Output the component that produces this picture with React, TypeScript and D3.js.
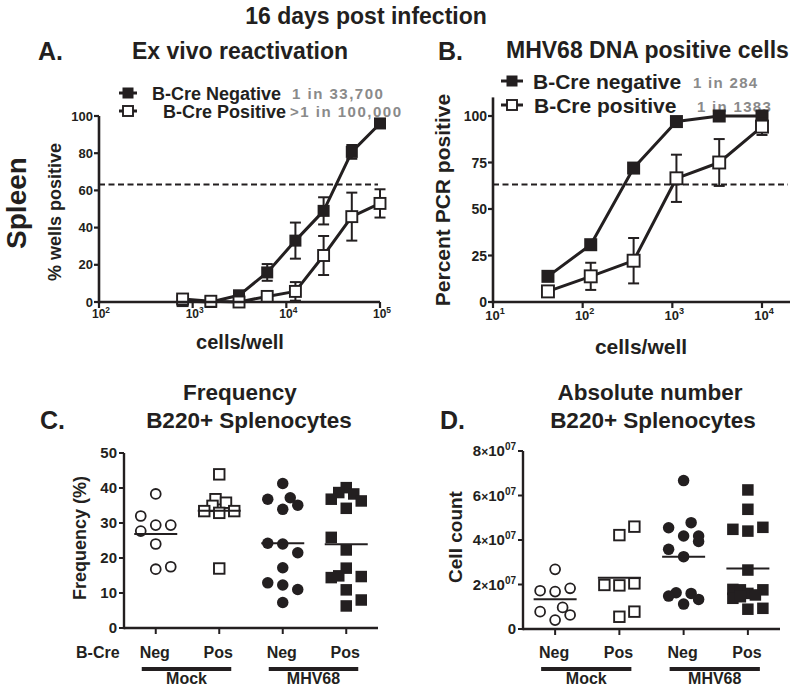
import React from 'react';
import * as d3 from 'd3';

const FONT = '"Liberation Sans", Arial, Helvetica, sans-serif';
const INK = '#231f20';
const GREY = '#8a8a8a';

// ---------- Panel A: ex vivo reactivation ----------
const cellsA = [781, 1563, 3125, 6250, 12500, 25000, 50000, 100000];
const negA = [0.5, 0, 3.6, 15.9, 33, 49, 80.7, 96];
const negASem = [0, 0, 1, 4.5, 9.7, 7.3, 3.7, 1];
const posA = [1.6, 0.4, 0, 3, 5.7, 25, 45.9, 53];
const posASem = [0, 0, 0, 1, 5, 10.5, 12.9, 7.6];
const xTicksA = [100, 1000, 10000, 100000];
const yTicksA = [0, 20, 40, 60, 80, 100];

// ---------- Panel B: MHV68 DNA positive cells ----------
const cellsB = [41, 123, 370, 1111, 3333, 10000];
const negB = [13.8, 30.8, 72, 97, 100, 100];
const negBSem = [1.5, 1.5, 2, 1.5, 0, 0];
const posB = [5.7, 13.8, 22.2, 66.5, 75, 94.3];
const posBSem = [0, 7.3, 12.2, 12.7, 12.6, 4.5];
const xTicksB = [10, 100, 1000, 10000];
const yTicksB = [0, 25, 50, 75, 100];

const cutoff = 63.2;

// ---------- Panel C: frequency (%) ----------
const groups = ['MockNeg', 'MockPos', 'MHVNeg', 'MHVPos'];
const groupLabels = ['Neg', 'Pos', 'Neg', 'Pos'];
const freqMockNeg = [38.3, 32, 29.4, 29.4, 27.7, 24, 16.8, 17.5];
const slotMockNegC = [0, -1, 0, 1, -1, 0, 0, 1];
const freqMockPos = [43.9, 36.8, 35.8, 34.9, 33.4, 32.9, 33.4, 17];
const slotMockPosC = [0, -0.25, 0.45, -0.45, -1, 0, 1, 0];
const freqMhvNeg = [41.3, 36.8, 37.2, 35.1, 33.9, 24.2, 24, 21.5, 17.2, 12.9, 12.3, 11, 7.3];
const slotMhvNegC = [0, -1, 0.5, 1, 0, -1, 0, 1, 0, -1, 0, 1, 0];
const freqMhvPos = [40.1, 38.7, 38.3, 36.8, 36.3, 34.2, 25.9, 22.3, 17.1, 14.9, 14.4, 14.7, 10.9, 8, 6.3];
const slotMhvPosC = [0, -0.5, 0.5, -1, 1, 0, -1, 0, 0, -0.5, -1, 1, 0, 1, 0];
const yTicksC = [0, 10, 20, 30, 40, 50];

// ---------- Panel D: absolute number ----------
const countMockNeg = [2.68e7, 1.72e7, 1.68e7, 1.83e7, 0.78e7, 0.97e7, 0.63e7, 0.4e7];
const slotMockNegD = [0, -1, 0, 1, -1, 0.5, 1, 0];
const countMockPos = [4.6e7, 4.22e7, 1.98e7, 1.96e7, 2.05e7, 0.78e7, 0.55e7];
const slotMockPosD = [1, 0, -1, 0, 1, 1, 0];
const countMhvNeg = [6.67e7, 4.78e7, 4.55e7, 4.18e7, 4.18e7, 3.93e7, 3.58e7, 3.25e7, 1.63e7, 1.48e7, 1.6e7, 1.33e7, 1.12e7];
const slotMhvNegD = [0, 0.5, -1, 0, 1, 1, -1, 0, -0.5, -1, 0.5, 1, 0];
const countMhvPos = [6.25e7, 5.38e7, 4.48e7, 4.4e7, 4.57e7, 2.65e7, 1.78e7, 1.76e7, 1.76e7, 1.38e7, 1.6e7, 1.53e7, 1.45e7, 0.89e7, 0.93e7];
const slotMhvPosD = [0, 0, -1, 0, 1, 0, -1, -0.5, 1, -1, 0, 0.5, -0.5, 0, 1];
const yTicksD = [0, 2e7, 4e7, 6e7, 8e7];

const markerKinds = ['openCircle', 'openSquare', 'filledCircle', 'filledSquare'];

type Sym = string;

function Marker({ kind, x, y, s }: { kind: Sym; x: number; y: number; s: number }) {
  if (kind === 'openCircle') return <circle cx={x} cy={y} r={s / 2 - 0.3} fill="#fff" stroke={INK} strokeWidth={1.8} />;
  if (kind === 'filledCircle') return <circle cx={x} cy={y} r={s / 2 + 0.5} fill={INK} />;
  if (kind === 'openSquare') return <rect x={x - s / 2} y={y - s / 2} width={s} height={s} fill="#fff" stroke={INK} strokeWidth={1.9} />;
  return <rect x={x - s / 2 - 0.5} y={y - s / 2 - 0.5} width={s + 1} height={s + 1} fill={INK} />;
}

function Pow10({ x, y, base, exp, size }: { x: number; y: number; base: string; exp: number; size: number }) {
  return (
    <text x={x} y={y} textAnchor="middle" fontSize={size} fontWeight="bold" fill={INK} fontFamily={FONT}>
      <tspan>{base}</tspan>
      <tspan fontSize={size * 0.7} dy={-size * 0.45}>{exp}</tspan>
    </text>
  );
}

type LdaProps = {
  xScale: d3.ScaleLogarithmic<number, number>;
  yScale: d3.ScaleLinear<number, number>;
  xEnd: number;
  yTopVal: number;
  xTicks: number[];
  yTicks: number[];
  cells: number[];
  neg: number[];
  negSem: number[];
  pos: number[];
  posSem: number[];
  tickSize: number;
  xTickSize: number;
  xLabelY: number;
  yLabelX: number;
  mk: number;
};

function LdaPanel(p: LdaProps) {
  const { xScale: x, yScale: y } = p;
  const line = d3.line<number>().x((_, i) => x(p.cells[i])).y((d) => y(d));
  const x0 = x.range()[0];
  const y0 = y(0);
  const series = [
    { vals: p.neg, sem: p.negSem, kind: 'filledSquare' },
    { vals: p.pos, sem: p.posSem, kind: 'openSquare' },
  ];
  return (
    <g>
      <line x1={x0} x2={p.xEnd - 2} y1={y(cutoff)} y2={y(cutoff)} stroke={INK} strokeWidth={2} strokeDasharray="6,3.5" />
      {series.map((s, si) => (
        <g key={si}>
          {s.vals.map((v, i) =>
            s.sem[i] > 0.8 ? (
              <g key={i} stroke={INK} strokeWidth={2}>
                <line x1={x(p.cells[i])} x2={x(p.cells[i])} y1={y(v + s.sem[i])} y2={y(Math.max(0, v - s.sem[i]))} />
                <line x1={x(p.cells[i]) - 5.5} x2={x(p.cells[i]) + 5.5} y1={y(v + s.sem[i])} y2={y(v + s.sem[i])} />
                <line x1={x(p.cells[i]) - 5.5} x2={x(p.cells[i]) + 5.5} y1={y(Math.max(0, v - s.sem[i]))} y2={y(Math.max(0, v - s.sem[i]))} />
              </g>
            ) : null
          )}
          <path d={line(s.vals) || ''} fill="none" stroke={INK} strokeWidth={3} strokeLinejoin="round" />
          {s.vals.map((v, i) => (
            <Marker key={i} kind={s.kind} x={x(p.cells[i])} y={y(v)} s={p.mk} />
          ))}
        </g>
      ))}
      <line x1={x0} x2={p.xEnd} y1={y0} y2={y0} stroke={INK} strokeWidth={2.6} />
      <line x1={x0} x2={x0} y1={y0 + 1.3} y2={y(p.yTopVal)} stroke={INK} strokeWidth={2.6} />
      {p.yTicks.map((t) => (
        <g key={t}>
          <line x1={x0 - 5} x2={x0} y1={y(t)} y2={y(t)} stroke={INK} strokeWidth={2.2} />
          <text x={p.yLabelX} y={y(t) + p.tickSize * 0.36} textAnchor="end" fontSize={p.tickSize} fontWeight="bold" fill={INK} fontFamily={FONT}>
            {t}
          </text>
        </g>
      ))}
      {p.xTicks.map((t) => (
        <g key={t}>
          <line x1={x(t)} x2={x(t)} y1={y0} y2={y0 + 6} stroke={INK} strokeWidth={2.2} />
          <Pow10 x={x(t) + 2} y={p.xLabelY} base="10" exp={Math.round(Math.log10(t))} size={p.xTickSize} />
        </g>
      ))}
    </g>
  );
}

type ScatterProps = {
  x0: number;
  x1: number;
  yScale: d3.ScaleLinear<number, number>;
  values: number[][];
  slots: number[][];
  yTicks: number[];
  tickLabel: (t: number, x: number, y: number) => React.ReactNode;
};

function ScatterPanel(p: ScatterProps) {
  const x = d3.scalePoint<string>().domain(groups).range([p.x0, p.x1]).padding(0.5);
  const y = p.yScale;
  const y0 = y.range()[0];
  const slotW = 15;
  return (
    <g>
      {groups.map((g, gi) => (
        <g key={g}>
          {p.values[gi].map((v, i) => (
            <Marker key={i} kind={markerKinds[gi]} x={(x(g) as number) + p.slots[gi][i] * slotW} y={y(v)} s={10.5} />
          ))}
          <line
            x1={(x(g) as number) - 21.5}
            x2={(x(g) as number) + 21.5}
            y1={y(d3.mean(p.values[gi]) as number)}
            y2={y(d3.mean(p.values[gi]) as number)}
            stroke={INK}
            strokeWidth={2}
          />
        </g>
      ))}
      <line x1={p.x0} x2={p.x1} y1={y0} y2={y0} stroke={INK} strokeWidth={2.4} />
      <line x1={p.x0} x2={p.x0} y1={y0 + 1.2} y2={y.range()[1]} stroke={INK} strokeWidth={2.4} />
      {p.yTicks.map((t) => (
        <g key={t}>
          <line x1={p.x0 - 5} x2={p.x0} y1={y(t)} y2={y(t)} stroke={INK} strokeWidth={2} />
          {p.tickLabel(t, p.x0 - 7, y(t))}
        </g>
      ))}
      {groups.map((g, gi) => (
        <g key={g}>
          <line x1={x(g) as number} x2={x(g) as number} y1={y0} y2={y0 + 6} stroke={INK} strokeWidth={2} />
          <text x={(x(g) as number) - 1} y={658} textAnchor="middle" fontSize={16} fontWeight="bold" fill={INK} fontFamily={FONT}>
            {groupLabels[gi]}
          </text>
        </g>
      ))}
      {[0, 2].map((gi) => {
        const a = (x(groups[gi]) as number) - 14;
        const b = (x(groups[gi + 1]) as number) + 12;
        return (
          <g key={gi}>
            <line x1={a} x2={b} y1={669} y2={669} stroke={INK} strokeWidth={4} />
            <text x={(a + b) / 2} y={684} textAnchor="middle" fontSize={16} fontWeight="bold" fill={INK} fontFamily={FONT}>
              {gi === 0 ? 'Mock' : 'MHV68'}
            </text>
          </g>
        );
      })}
    </g>
  );
}

function T(props: any) {
  return <text fontWeight="bold" fill={INK} fontFamily={FONT} {...props} />;
}

function LegendRow({ x, y, kind, w }: { x: number; y: number; kind: Sym; w: number }) {
  return (
    <g>
      <line x1={x - w} x2={x + w} y1={y} y2={y} stroke={INK} strokeWidth={3} />
      <Marker kind={kind} x={x} y={y} s={10} />
    </g>
  );
}

export default function App() {
  const xA = d3.scaleLog().domain([100, 100000]).range([99, 380]);
  const yA = d3.scaleLinear().domain([0, 100]).range([302, 116]);
  const xB = d3.scaleLog().domain([10, 10000]).range([493, 762]);
  const yB = d3.scaleLinear().domain([0, 100]).range([302, 116]);
  const yC = d3.scaleLinear().domain([0, 50]).range([628, 453]);
  const yD = d3.scaleLinear().domain([0, 8e7]).range([629, 451]);

  const cLabel = (t: number, x: number, y: number) => (
    <T x={x} y={y + 5.3} textAnchor="end" fontSize={15}>
      {t}
    </T>
  );
  const dLabel = (t: number, x: number, y: number) =>
    t === 0 ? (
      <T x={x} y={y + 5.3} textAnchor="end" fontSize={15}>0</T>
    ) : (
      <T x={x} y={y + 5} textAnchor="end" fontSize={15}>
        <tspan>{t / 1e7}</tspan>
        <tspan fontSize={12}>×</tspan>
        <tspan>10</tspan>
        <tspan fontSize={10} dy={-6}>07</tspan>
      </T>
    );

  return (
    <svg width={800} height={691} style={{ position: 'absolute', left: 0, top: 0, background: '#fff' }}>
      <defs>
        <clipPath id="clipA">
          <rect x={0} y={0} width={409} height={691} />
        </clipPath>
      </defs>
      <rect x={0} y={0} width={800} height={691} fill="#fff" />
      <T x={366} y={24} textAnchor="middle" fontSize={23}>16 days post infection</T>

      {/* Panel A */}
      <T x={38} y={60} fontSize={25}>A.</T>
      <T x={132} y={59} fontSize={23}>Ex vivo reactivation</T>
      <T transform="translate(16,203) rotate(-90)" dy="0.36em" textAnchor="middle" fontSize={28}>Spleen</T>
      <T transform="translate(55,212) rotate(-90)" dy="0.36em" textAnchor="middle" fontSize={18}>% wells positive</T>
      <LegendRow x={128} y={93} kind="filledSquare" w={9} />
      <T x={152} y={99.5} fontSize={18}>B-Cre Negative</T>
      <T x={292} y={99} fontSize={15} fill={GREY} letterSpacing={1.5}>1 in 33,700</T>
      <LegendRow x={128} y={111} kind="openSquare" w={9} />
      <T x={163} y={117.5} fontSize={18}>B-Cre Positive</T>
      <g clipPath="url(#clipA)">
        <T x={290} y={117} fontSize={15} fill={GREY} letterSpacing={1.5}>&gt;1 in 100,000</T>
      </g>
      <LdaPanel
        xScale={xA}
        yScale={yA}
        xEnd={380}
        yTopVal={100}
        xTicks={xTicksA}
        yTicks={yTicksA}
        cells={cellsA}
        neg={negA}
        negSem={negASem}
        pos={posA}
        posSem={posASem}
        tickSize={13}
        xTickSize={12}
        xLabelY={318}
        yLabelX={93}
        mk={11}
      />
      <T x={240} y={349} textAnchor="middle" fontSize={20}>cells/well</T>

      {/* Panel B */}
      <T x={438} y={60} fontSize={25}>B.</T>
      <T x={506} y={58} fontSize={23}>MHV68 DNA positive cells</T>
      <T transform="translate(442,200) rotate(-90)" dy="0.36em" textAnchor="middle" fontSize={21}>Percent PCR positive</T>
      <LegendRow x={512} y={81} kind="filledSquare" w={11} />
      <T x={533} y={88.5} fontSize={21}>B-Cre negative</T>
      <T x={693} y={88} fontSize={15} fill={GREY} letterSpacing={1.3}>1 in 284</T>
      <LegendRow x={512} y={105} kind="openSquare" w={11} />
      <T x={534} y={112.5} fontSize={21}>B-Cre positive</T>
      <T x={697} y={112} fontSize={15} fill={GREY} letterSpacing={1.3}>1 in 1383</T>
      <LdaPanel
        xScale={xB}
        yScale={yB}
        xEnd={790}
        yTopVal={110}
        xTicks={xTicksB}
        yTicks={yTicksB}
        cells={cellsB}
        neg={negB}
        negSem={negBSem}
        pos={posB}
        posSem={posBSem}
        tickSize={14}
        xTickSize={13}
        xLabelY={320}
        yLabelX={487}
        mk={12}
      />
      <T x={641} y={354} textAnchor="middle" fontSize={21}>cells/well</T>

      {/* Panel C */}
      <T x={40} y={429} fontSize={25}>C.</T>
      <T x={240} y={400} textAnchor="middle" fontSize={22.5}>Frequency</T>
      <T x={249} y={428} textAnchor="middle" fontSize={22.5}>B220+ Splenocytes</T>
      <T transform="translate(80,538) rotate(-90)" dy="0.36em" textAnchor="middle" fontSize={18}>Frequency (%)</T>
      <T x={76} y={658} fontSize={16}>B-Cre</T>
      <ScatterPanel
        x0={124}
        x1={378}
        yScale={yC}
        values={[freqMockNeg, freqMockPos, freqMhvNeg, freqMhvPos]}
        slots={[slotMockNegC, slotMockPosC, slotMhvNegC, slotMhvPosC]}
        yTicks={yTicksC}
        tickLabel={cLabel}
      />

      {/* Panel D */}
      <T x={440} y={429} fontSize={25}>D.</T>
      <T x={650} y={400} textAnchor="middle" fontSize={22.5}>Absolute number</T>
      <T x={653} y={428} textAnchor="middle" fontSize={22.5}>B220+ Splenocytes</T>
      <T transform="translate(455,537) rotate(-90)" dy="0.36em" textAnchor="middle" fontSize={19}>Cell count</T>
      <ScatterPanel
        x0={523}
        x1={780}
        yScale={yD}
        values={[countMockNeg, countMockPos, countMhvNeg, countMhvPos]}
        slots={[slotMockNegD, slotMockPosD, slotMhvNegD, slotMhvPosD]}
        yTicks={yTicksD}
        tickLabel={dLabel}
      />
    </svg>
  );
}
